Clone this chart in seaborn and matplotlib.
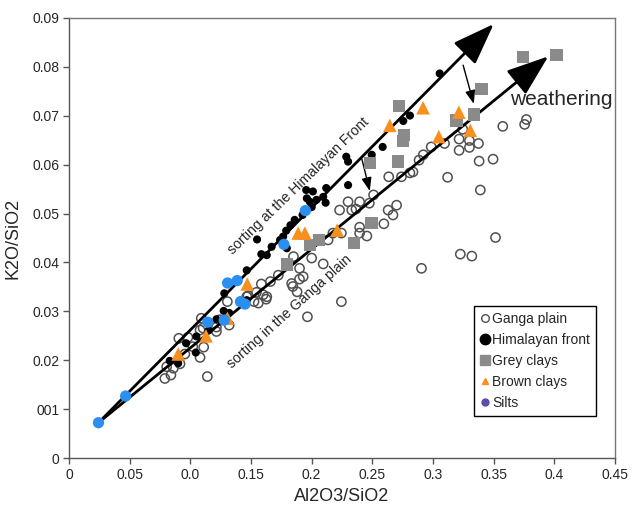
import matplotlib
matplotlib.use("Agg")
import matplotlib.pyplot as plt
from matplotlib.lines import Line2D
import pandas as pd
import seaborn as sns

# ---- data -----------------------------------------------------------------
ganga_x = [0.079, 0.084, 0.0805, 0.086, 0.0915, 0.0905, 0.0955, 0.098, 0.102, 0.108,
           0.111, 0.109, 0.1105, 0.114, 0.1215, 0.1305, 0.132, 0.124, 0.108, 0.1215,
           0.1475, 0.1525, 0.1545, 0.156, 0.1585, 0.1625, 0.163, 0.166, 0.1725, 0.1835,
           0.190, 0.1965, 0.200, 0.185, 0.160, 0.1465, 0.190, 0.1845, 0.188, 0.193,
           0.2095, 0.2135, 0.2175, 0.2245, 0.2245, 0.2395, 0.2395, 0.2455, 0.223, 0.230,
           0.233, 0.2365, 0.2395, 0.2475, 0.251, 0.2635, 0.263, 0.267, 0.270, 0.2595,
           0.274, 0.2835, 0.281, 0.2885, 0.292, 0.2985, 0.3095, 0.3215, 0.330, 0.3375,
           0.330, 0.3215, 0.3245, 0.3575, 0.3755, 0.377, 0.312, 0.338, 0.3495, 0.339,
           0.3515, 0.2905, 0.3225, 0.332]
ganga_y = [0.0163, 0.0170, 0.0187, 0.0184, 0.0193, 0.0245, 0.0213, 0.0247, 0.0228, 0.0206,
           0.0227, 0.0286, 0.0266, 0.0167, 0.0268, 0.0320, 0.0272, 0.0283, 0.0262, 0.0259,
           0.0332, 0.0320, 0.0339, 0.0317, 0.0356, 0.0325, 0.0330, 0.0361, 0.0374, 0.0357,
           0.0366, 0.0289, 0.0409, 0.0412, 0.0334, 0.0330, 0.0388, 0.0351, 0.0340, 0.0371,
           0.0397, 0.0446, 0.0460, 0.0460, 0.0320, 0.0460, 0.0472, 0.0454, 0.0507, 0.0524,
           0.0507, 0.0509, 0.0524, 0.0521, 0.0538, 0.0575, 0.0507, 0.0497, 0.0517, 0.0479,
           0.0575, 0.0585, 0.0583, 0.0609, 0.0620, 0.0636, 0.0643, 0.0652, 0.0649, 0.0643,
           0.0635, 0.0629, 0.0672, 0.0678, 0.0682, 0.0692, 0.0574, 0.0607, 0.0611, 0.0548,
           0.0451, 0.0388, 0.0417, 0.0413]

himal_x = [0.083, 0.090, 0.0965, 0.105, 0.1045, 0.115, 0.1215, 0.1275, 0.132, 0.128,
           0.1465, 0.1465, 0.155, 0.1585, 0.163, 0.167, 0.174, 0.1765, 0.1795, 0.179,
           0.1825, 0.186, 0.1925, 0.196, 0.1955, 0.200, 0.1985, 0.201, 0.204, 0.2095,
           0.2115, 0.212, 0.2285, 0.230, 0.230, 0.2495, 0.2585, 0.2755, 0.281, 0.3055]
himal_y = [0.0199, 0.0194, 0.0235, 0.0249, 0.0216, 0.0261, 0.0284, 0.0301, 0.0297, 0.0337,
           0.0323, 0.0384, 0.0447, 0.0417, 0.0415, 0.0432, 0.0446, 0.0453, 0.0429, 0.0465,
           0.0476, 0.0487, 0.0497, 0.0531, 0.0548, 0.0513, 0.0524, 0.0545, 0.0528, 0.0534,
           0.0522, 0.0552, 0.0616, 0.0606, 0.0558, 0.0620, 0.0636, 0.0689, 0.0700, 0.0786]

grey_x = [0.1796, 0.1989, 0.2063, 0.2348, 0.2493, 0.2479, 0.2713, 0.2759, 0.2754, 0.2718,
          0.3194, 0.334, 0.340, 0.3742, 0.4017]
grey_y = [0.0396, 0.0436, 0.0446, 0.0440, 0.0480, 0.0603, 0.0606, 0.0660, 0.0648, 0.0719,
          0.0690, 0.0702, 0.0754, 0.0819, 0.0824]

brown_x = [0.090, 0.1129, 0.1306, 0.1469, 0.1889, 0.1944, 0.221, 0.2644, 0.2918, 0.3048,
           0.3213, 0.3307]
brown_y = [0.0213, 0.0250, 0.0286, 0.0356, 0.0460, 0.0460, 0.0466, 0.0680, 0.0716, 0.0657,
           0.0707, 0.0670]

silts_x = [0.0243, 0.0467, 0.1143, 0.1279, 0.1307, 0.1386, 0.1413, 0.145, 0.1771, 0.1948]
silts_y = [0.00727, 0.01272, 0.0278, 0.0282, 0.0358, 0.0363, 0.0320, 0.0315, 0.0437, 0.0506]

# trend arrows: common origin and the two heads
trend_origin = (0.0243, 0.00727)
himalaya_head = (0.3500, 0.0887)
ganga_head = (0.3950, 0.0821)

x_ticks = [0, 0.05, 0.1, 0.15, 0.2, 0.25, 0.3, 0.35, 0.4, 0.45]
x_tick_labels = ["0", "0.05", "0.0", "0.15", "0.2", "0.25", "0.3", "0.35", "0.4", "0.45"]
y_ticks = [0, 0.01, 0.02, 0.03, 0.04, 0.05, 0.06, 0.07, 0.08, 0.09]
y_tick_labels = ["0", "001", "0.02", "0.03", "0.04", "0.05", "0.06", "0.07", "0.08", "0.09"]

# ---- figure ---------------------------------------------------------------
sns.set_style("white")
plt.rcParams["font.family"] = ["Liberation Sans", "DejaVu Sans"]

fig = plt.figure(figsize=(6.33, 5.05), dpi=100)
ax = fig.add_axes([0.109, 0.0925, 0.8626, 0.8725])

BLUE = "#2a8ff0"
ORANGE = "#f7901e"
GREY = "#8a8a8a"

ganga = pd.DataFrame({"x": ganga_x, "y": ganga_y})
himal = pd.DataFrame({"x": himal_x, "y": himal_y})
grey = pd.DataFrame({"x": grey_x, "y": grey_y})
brown = pd.DataFrame({"x": brown_x, "y": brown_y})
silts = pd.DataFrame({"x": silts_x, "y": silts_y})

sns.scatterplot(data=ganga, x="x", y="y", ax=ax, marker="o", s=44,
                facecolors="none", edgecolor="#505050", linewidth=1.1,
                legend=False, zorder=2)
sns.scatterplot(data=himal, x="x", y="y", ax=ax, marker="o", s=34,
                color="black", edgecolor="none", legend=False, zorder=3)

# trend arrows
for head in (himalaya_head, ganga_head):
    ax.annotate("", xy=head, xytext=trend_origin,
                arrowprops=dict(arrowstyle="-|>,head_length=2.6,head_width=0.95",
                                mutation_scale=10, lw=2.0, color="black",
                                shrinkA=0, shrinkB=0),
                zorder=4)

# small offset arrows between the trends
for start, end in (((0.3248, 0.0803), (0.3336, 0.0724)),
                   ((0.2414, 0.0611), (0.2479, 0.0546))):
    ax.annotate("", xy=end, xytext=start,
                arrowprops=dict(arrowstyle="-|>,head_length=0.8,head_width=0.3",
                                mutation_scale=10, lw=1.0, color="black",
                                shrinkA=0, shrinkB=0),
                zorder=4)

sns.scatterplot(data=grey, x="x", y="y", ax=ax, marker="s", s=78,
                color=GREY, edgecolor="none", legend=False, zorder=5)
sns.scatterplot(data=brown, x="x", y="y", ax=ax, marker="^", s=95,
                color=ORANGE, edgecolor="none", legend=False, zorder=6)
sns.scatterplot(data=silts, x="x", y="y", ax=ax, marker="o", s=66,
                color=BLUE, edgecolor="none", legend=False, zorder=7)

# annotations
ax.text(0.1890, 0.0557, "sorting at the Himalayan Front", rotation=44,
        rotation_mode="anchor", ha="center", va="center", fontsize=10.2)
ax.text(0.182, 0.0300, "sorting in the Ganga plain", rotation=42,
        rotation_mode="anchor", ha="center", va="center", fontsize=10.2)
ax.text(0.4053, 0.0732, "weathering", ha="center", va="center", fontsize=15)

# axes
ax.set_xlim(0, 0.45)
ax.set_ylim(0, 0.09)
ax.set_xticks(x_ticks)
ax.set_xticklabels(x_tick_labels)
ax.set_yticks(y_ticks)
ax.set_yticklabels(y_tick_labels)
ax.tick_params(axis="both", direction="out", length=4, width=1, color="#555555",
               labelsize=10, pad=3, bottom=True, left=True)
for side in ("left", "bottom"):
    ax.spines[side].set_color("#555555")
    ax.spines[side].set_linewidth(1.0)
for side in ("top", "right"):
    ax.spines[side].set_color("#777777")
    ax.spines[side].set_linewidth(1.0)
ax.set_xlabel("Al2O3/SiO2", fontsize=13, labelpad=4)
ax.set_ylabel("K2O/SiO2", fontsize=13, labelpad=8)

handles = [
    Line2D([], [], ls="none", marker="o", ms=5.5, mfc="none", mec="#505050", mew=1.0),
    Line2D([], [], ls="none", marker="o", ms=7.5, color="black"),
    Line2D([], [], ls="none", marker="s", ms=6.5, color=GREY),
    Line2D([], [], ls="none", marker="^", ms=5, color=ORANGE),
    Line2D([], [], ls="none", marker="o", ms=5, color="#5a4fa8"),
]
labels = ["Ganga plain", "Himalayan front", "Grey clays", "Brown clays", "Silts"]
leg = ax.legend(handles, labels, loc="lower left", bbox_to_anchor=(0.742, 0.096),
                fontsize=10.0, frameon=True, fancybox=False, framealpha=1,
                edgecolor="black", handlelength=0.7, handletextpad=0.15,
                labelspacing=0.5, borderpad=0.45, borderaxespad=0)
leg.get_frame().set_linewidth(1.0)

fig.savefig("out.png", dpi=100)
